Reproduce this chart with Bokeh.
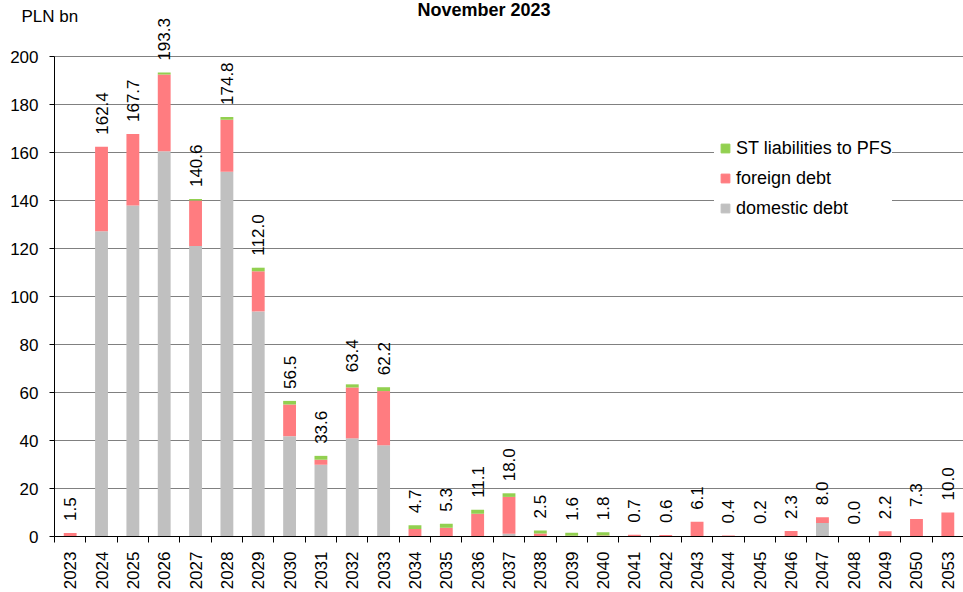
import math
from bokeh.plotting import figure
from bokeh.models import (Range1d, FixedTicker, Legend, LegendItem, Title,
                          ColumnDataSource)
from bokeh.core.properties import value
from bokeh.embed import file_html
from bokeh.resources import INLINE

# ---- data (PLN bn) ----
years = ["2023", "2024", "2025", "2026", "2027", "2028", "2029", "2030", "2031",
         "2032", "2033", "2034", "2035", "2036", "2037", "2038", "2039", "2040",
         "2041", "2042", "2043", "2044", "2045", "2046", "2047", "2048", "2049",
         "2050", "2053"]
domestic = [0.0, 127.2, 137.9, 160.5, 121.0, 152.0, 93.8, 41.8, 29.9,
            40.9, 38.0, 0.0, 0.0, 0.0, 1.1, 0.0, 0.0, 0.0,
            0.0, 0.0, 0.0, 0.0, 0.0, 0.0, 5.6, 0.0, 0.0,
            0.0, 0.0]
foreign = [1.5, 35.2, 29.8, 32.0, 19.0, 21.6, 16.7, 13.2, 2.1,
           21.2, 22.6, 3.1, 3.6, 9.5, 15.4, 1.3, 0.3, 0.4,
           0.7, 0.6, 6.1, 0.4, 0.2, 2.3, 2.4, 0.0, 2.2,
           7.3, 10.0]
st_pfs = [0.0, 0.0, 0.0, 0.8, 0.6, 1.2, 1.5, 1.5, 1.6,
          1.3, 1.6, 1.6, 1.7, 1.6, 1.5, 1.2, 1.3, 1.4,
          0.0, 0.0, 0.0, 0.0, 0.0, 0.0, 0.0, 0.0, 0.0,
          0.0, 0.0]
totals = [1.5, 162.4, 167.7, 193.3, 140.6, 174.8, 112.0, 56.5, 33.6,
          63.4, 62.2, 4.7, 5.3, 11.1, 18.0, 2.5, 1.6, 1.8,
          0.7, 0.6, 6.1, 0.4, 0.2, 2.3, 8.0, 0.0, 2.2,
          7.3, 10.0]
y_ticks = [0, 20, 40, 60, 80, 100, 120, 140, 160, 180, 200]

series_names = ["domestic debt", "foreign debt", "ST liabilities to PFS"]
colors = ["#C0C0C0", "#FF7C80", "#92D050"]

FONT = "Liberation Sans"

n = len(years)
xs = list(range(n))
src = ColumnDataSource(dict(
    x=xs, dom=domestic, fore=foreign, st=st_pfs, tot=totals,
    lbl=["%.1f" % t for t in totals],
))

p = figure(width=963, height=592, output_backend="svg", toolbar_location=None,
           x_range=Range1d(-0.5, n - 0.5), y_range=Range1d(0, 520 / 2.4),
           min_border_left=54, min_border_right=0, min_border_top=16,
           min_border_bottom=56)
p.outline_line_color = None
p.background_fill_color = "white"
p.border_fill_color = "white"

bars = p.vbar_stack(["dom", "fore", "st"], x="x", width=0.41, color=colors,
                    line_color=None, source=src)

p.text(x="x", y="tot", text="lbl", source=src, angle=math.pi / 2,
       text_align="left", text_baseline="middle", y_offset=-12,
       text_font=value(FONT), text_font_size="17px", text_color="black")

# axes
p.yaxis.ticker = FixedTicker(ticks=y_ticks)
p.yaxis.bounds = (0, 200)
p.yaxis.major_tick_out = 5
p.yaxis.major_tick_in = 0
p.yaxis.minor_tick_line_color = None
p.yaxis.major_label_standoff = 11
p.yaxis.major_label_text_font = FONT
p.yaxis.major_label_text_font_size = "17px"
p.yaxis.major_label_text_color = "black"
p.yaxis.axis_line_color = "black"
p.yaxis.major_tick_line_color = "black"

p.xaxis.ticker = FixedTicker(ticks=xs, minor_ticks=[i - 0.5 for i in range(n + 1)])
p.xaxis.major_label_overrides = {i: y for i, y in enumerate(years)}
p.xaxis.major_label_orientation = math.pi / 2
p.xaxis.major_tick_out = 0
p.xaxis.major_tick_in = 0
p.xaxis.minor_tick_out = 6
p.xaxis.minor_tick_in = 0
p.xaxis.minor_tick_line_color = "black"
p.xaxis.major_label_standoff = 9
p.xaxis.major_label_text_font = FONT
p.xaxis.major_label_text_font_size = "17px"
p.xaxis.major_label_text_color = "black"
p.xaxis.axis_line_color = "black"

p.xgrid.grid_line_color = None
p.ygrid.ticker = FixedTicker(ticks=y_ticks)
p.ygrid.grid_line_color = "black"
p.ygrid.grid_line_dash = "1 1"
p.ygrid.grid_line_width = 1

# legend (proxies without visible data)
nan = float("nan")
proxies = [p.scatter(x=[nan], y=[nan], marker="square", color=c, size=9) for c in colors]
items = [LegendItem(label=series_names[i], renderers=[proxies[i]]) for i in [2, 1, 0]]
legend = Legend(items=items, location=(660, 317), glyph_width=22, glyph_height=22,
                spacing=8, padding=18, margin=0, label_standoff=-2,
                label_text_font=FONT, label_text_font_size="18px",
                label_text_color="black", background_fill_color="white",
                background_fill_alpha=1.0, border_line_color=None)
p.add_layout(legend, "center")

# texts above the plot area
p.add_layout(Title(text="PLN bn", align="left", offset=-33, standoff=-19,
                   vertical_align="bottom", text_font=FONT, text_font_size="17px",
                   text_font_style="normal", text_color="black"), "above")
p.add_layout(Title(text="November 2023", align="left", offset=363, standoff=-10,
                   vertical_align="bottom", text_font=FONT, text_font_size="18px",
                   text_font_style="bold", text_color="black"), "above")

open("out.html", "w").write(file_html(p, INLINE))
